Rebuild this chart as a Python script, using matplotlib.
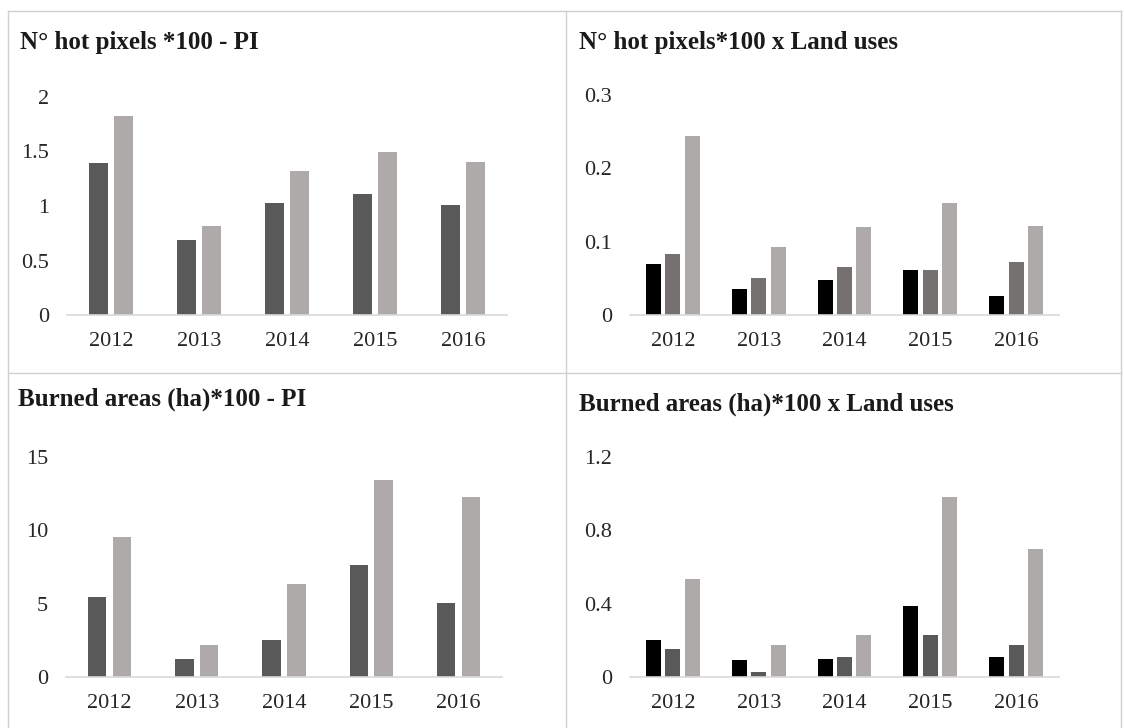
import numpy as np
import matplotlib.pyplot as plt
from matplotlib.lines import Line2D

plt.rcParams['font.family'] = ['Liberation Serif', 'DejaVu Serif']

years = ['2012', '2013', '2014', '2015', '2016']

# hot pixels *100, protected areas (two series)
hot_pi_a = [1.39, 0.69, 1.03, 1.11, 1.01]
hot_pi_b = [1.83, 0.82, 1.32, 1.50, 1.40]

# hot pixels *100 by land use (three series)
hot_lu_a = [0.070, 0.035, 0.048, 0.061, 0.026]
hot_lu_b = [0.083, 0.050, 0.065, 0.061, 0.072]
hot_lu_c = [0.244, 0.093, 0.120, 0.153, 0.122]

# burned areas (ha) *100, protected areas
burn_pi_a = [5.45, 1.23, 2.55, 7.66, 5.07]
burn_pi_b = [9.55, 2.20, 6.36, 13.45, 12.27]

# burned areas (ha) *100 by land use
burn_lu_a = [0.204, 0.091, 0.100, 0.387, 0.109]
burn_lu_b = [0.151, 0.029, 0.109, 0.227, 0.176]
burn_lu_c = [0.536, 0.176, 0.227, 0.982, 0.700]

DARK = '#595959'
LIGHT = '#aeaaaa'
MID = '#767171'
BLACK = '#000000'
AXIS = '#d9d9d9'
BORDER = '#d0d0d0'

fig = plt.figure(figsize=(11.24, 7.28), dpi=100)


def panel(rect, series, colors, width, step, ylim, yticks, yticklabels, title, title_xy):
    ax = fig.add_axes(rect)
    x = np.arange(len(years))
    n = len(series)
    for i, (vals, c) in enumerate(zip(series, colors)):
        off = (i - (n - 1) / 2) * step
        ax.bar(x + off, vals, width=width, color=c, zorder=2)
    ax.set_xlim(-0.5, len(years) - 0.5)
    ax.set_ylim(*ylim)
    ax.set_yticks(yticks)
    ax.set_yticklabels(yticklabels)
    ax.set_xticks(x)
    ax.set_xticklabels(years)
    for s in ['top', 'right', 'left']:
        ax.spines[s].set_visible(False)
    ax.spines['bottom'].set_color(AXIS)
    ax.spines['bottom'].set_linewidth(1.2)
    ax.tick_params(axis='both', length=0, labelsize=16, colors='#262626')
    ax.tick_params(axis='x', pad=12)
    ax.tick_params(axis='y', pad=13)
    fig.text(title_xy[0], title_xy[1], title, fontsize=18, fontweight='bold',
             ha='left', va='center', color='#1a1a1a')
    return ax


W, H = 1124, 728


def fx(px):
    return px / W


def fy(py):
    return 1 - py / H


panel([fx(67), fy(315), fx(440), fy(97) - fy(315)],
      [hot_pi_a, hot_pi_b], [DARK, LIGHT], 0.21, 0.285,
      (0, 2), [0, 0.5, 1, 1.5, 2], ['0', '0.5', '1', '1.5', '2'],
      'N° hot pixels *100 - PI', (fx(20), fy(42)))

panel([fx(630), fy(315), fx(429), fy(95) - fy(315)],
      [hot_lu_a, hot_lu_b, hot_lu_c], [BLACK, MID, LIGHT], 0.175, 0.227,
      (0, 0.3), [0, 0.1, 0.2, 0.3], ['0', '0.1', '0.2', '0.3'],
      'N° hot pixels*100 x Land uses', (fx(579), fy(42)))

panel([fx(66), fy(677), fx(436), fy(457) - fy(677)],
      [burn_pi_a, burn_pi_b], [DARK, LIGHT], 0.21, 0.285,
      (0, 15), [0, 5, 10, 15], ['0', '5', '10', '15'],
      'Burned areas (ha)*100 - PI', (fx(18), fy(399)))

panel([fx(630), fy(677), fx(429), fy(457) - fy(677)],
      [burn_lu_a, burn_lu_b, burn_lu_c], [BLACK, DARK, LIGHT], 0.175, 0.227,
      (0, 1.2), [0, 0.4, 0.8, 1.2], ['0', '0.4', '0.8', '1.2'],
      'Burned areas (ha)*100 x Land uses', (fx(579), fy(404)))

# panel frames
for xs, ys in [([8, 1121], [11, 11]), ([8, 1121], [373, 373]),
               ([8, 8], [11, 728]), ([566, 566], [11, 728]),
               ([1121, 1121], [11, 728])]:
    fig.add_artist(Line2D([fx(v) for v in xs], [fy(v) for v in ys],
                          color=BORDER, linewidth=1.0))

fig.savefig('out.png', dpi=100)
